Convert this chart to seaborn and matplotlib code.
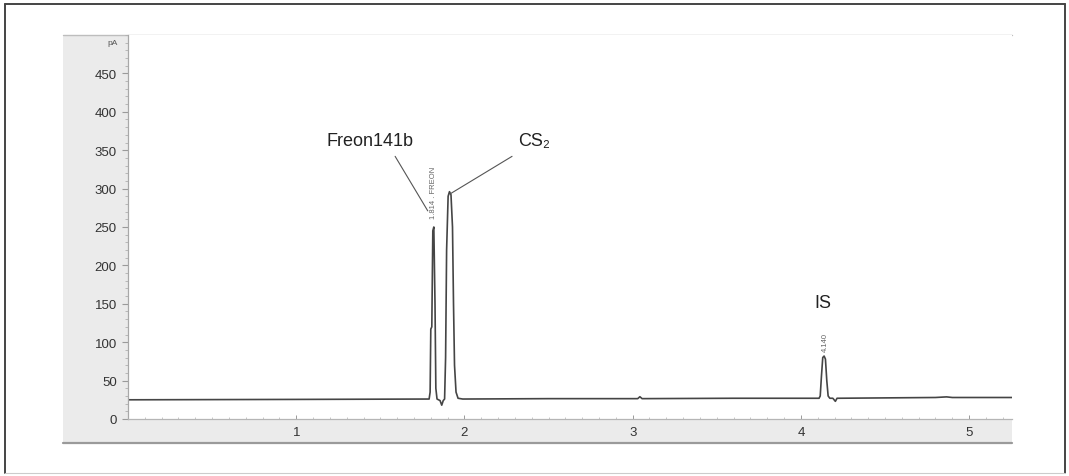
import matplotlib
matplotlib.use("Agg")
import matplotlib.pyplot as plt
from matplotlib.patches import Rectangle
from matplotlib.lines import Line2D
from matplotlib.ticker import MultipleLocator
import seaborn as sns

# retention time (min) and detector signal (pA)
time_min = [
    0.00, 1.00, 1.790, 1.796, 1.800, 1.806, 1.812, 1.818, 1.825, 1.830,
    1.837, 1.855, 1.865, 1.874, 1.882, 1.888, 1.894, 1.903, 1.911, 1.920,
    1.929, 1.935, 1.941, 1.950, 1.962, 1.990, 2.50, 3.030, 3.043, 3.056,
    3.60, 4.00, 4.108, 4.115, 4.122, 4.130, 4.138, 4.146, 4.154, 4.162,
    4.172, 4.190, 4.205, 4.215, 4.80, 4.866, 4.90, 5.255,
]
signal_pa = [
    25, 25.5, 26, 35, 117, 120, 245, 250, 150, 40,
    26, 24, 18, 24, 26, 80, 220, 290, 296, 292,
    250, 150, 70, 35, 27, 26, 26.5, 26.5, 29, 26.5,
    27, 27, 27, 30, 55, 80, 82, 78, 50, 30,
    27, 27, 23, 27, 28, 28.8, 28, 28,
]

peak_names = ["Freon141b", "CS₂", "IS"]
peak_label_xy = [(1.44, 362), (2.415, 362), (4.130, 152)]
leader_lines = [((1.588, 342), (1.782, 271)), ((2.283, 342), (1.914, 293))]
rt_labels = ["1.814 . FREON", "4.140"]
rt_label_xy = [(1.815, 262), (4.143, 88)]

x_ticks = [1, 2, 3, 4, 5]
y_ticks = [0, 50, 100, 150, 200, 250, 300, 350, 400, 450]

W, H = 1069, 477
sns.set_style("white")
plt.rcParams["font.family"] = ["Liberation Sans", "DejaVu Sans"]

fig = plt.figure(figsize=(W / 100, H / 100), dpi=100)
ax = fig.add_axes([128 / W, 1 - 420 / H, (1012 - 128) / W, (420 - 36) / H])


def fig_rect(x0, y0, x1, y1, **kw):
    # pixel box (top-left origin) -> figure fraction rectangle
    return Rectangle((x0 / W, 1 - y1 / H), (x1 - x0) / W, (y1 - y0) / H,
                     transform=fig.transFigure, **kw)


def fig_line(x0, y0, x1, y1, **kw):
    return Line2D([x0 / W, x1 / W], [1 - y0 / H, 1 - y1 / H],
                  transform=fig.transFigure, **kw)


# grey axis panels of the instrument printout
fig.patches.append(fig_rect(63, 36, 128, 444, facecolor="#ebebeb",
                            edgecolor="none", zorder=-2))
fig.patches.append(fig_rect(128, 420, 1012, 444, facecolor="#ebebeb",
                            edgecolor="none", zorder=-2))
fig.lines.append(fig_line(63, 444, 1012, 444, color="#9a9a9a", lw=1.6, zorder=-1))
fig.lines.append(fig_line(63, 36, 1012, 36, color="#bdbdbd", lw=1.0, zorder=-1))
# outer frame
fig.lines.append(fig_line(5, 5, 1065, 5, color="#444444", lw=1.4))
fig.lines.append(fig_line(5, 5, 5, 474, color="#444444", lw=1.4))
fig.lines.append(fig_line(1065, 5, 1065, 474, color="#444444", lw=1.4))
fig.lines.append(fig_line(5, 474, 1065, 474, color="#cccccc", lw=0.8))

sns.lineplot(x=time_min, y=signal_pa, ax=ax, color="#454545", lw=1.2,
             estimator=None, sort=False)

ax.set_xlim(0, 5.255)
ax.set_ylim(0, 500)
ax.set_xticks(x_ticks)
ax.set_yticks(y_ticks)
ax.xaxis.set_minor_locator(MultipleLocator(0.1))
ax.yaxis.set_minor_locator(MultipleLocator(10))
ax.tick_params(axis="y", which="major", length=4, width=0.8, color="#9a9a9a",
               pad=4, labelsize=9.5, labelcolor="#333333", left=True)
ax.tick_params(axis="y", which="minor", length=2, width=0.6, color="#b0b0b0", left=True)
ax.tick_params(axis="x", which="major", direction="in", length=3, width=0.7,
               color="#9a9a9a", pad=5, labelsize=9.5, labelcolor="#333333", bottom=True)
ax.tick_params(axis="x", which="minor", direction="in", length=1.5, width=0.5,
               color="#b0b0b0", bottom=True)
for side in ["top", "right"]:
    ax.spines[side].set_visible(False)
ax.spines["left"].set_color("#a8a8a8")
ax.spines["bottom"].set_color("#b5b5b5")
ax.spines["left"].set_linewidth(0.9)
ax.spines["bottom"].set_linewidth(0.9)
ax.set_xlabel("")
ax.set_ylabel("")

ax.text(-0.094, 490, "pA", fontsize=6, color="#555555", ha="center",
        va="center", clip_on=False)

for name, (x, y) in zip(peak_names, peak_label_xy):
    ax.text(x, y, name, fontsize=13, color="#222222", ha="center", va="center")
for (x0, y0), (x1, y1) in leader_lines:
    ax.plot([x0, x1], [y0, y1], color="#555555", lw=0.8)
for label, (x, y) in zip(rt_labels, rt_label_xy):
    ax.text(x, y, label, fontsize=5.5, color="#666666", rotation=90,
            ha="center", va="bottom")

fig.savefig("out.png", dpi=100)
